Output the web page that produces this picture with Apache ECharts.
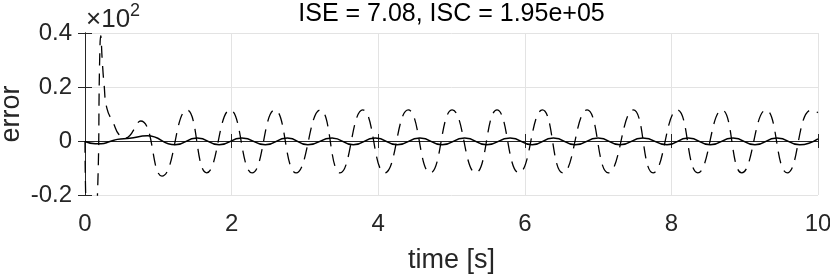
<!DOCTYPE html>
<html>
<head>
<meta charset="utf-8">
<script src="https://cdn.jsdelivr.net/npm/echarts@6/dist/echarts.min.js"></script>
<style>
html,body{margin:0;padding:0;background:#fff;}
#chart{width:830px;height:274px;}
</style>
</head>
<body>
<div id="chart"></div>
<script>
// Raw values (plotted on a x10^2 scale)
const dashedT = [0, 0.02, 0.09, 0.17, 0.20, 0.215, 0.235, 0.26, 0.30, 0.39, 0.46, 0.54, 0.76, 1.05,
  1.39, 1.66, 1.98, 2.28, 2.59, 2.88, 3.21, 3.48, 3.79, 4.09, 4.41, 4.71, 5.01, 5.33, 5.62, 5.92,
  6.24, 6.52, 6.85, 7.14, 7.48, 7.75, 8.08, 8.36, 8.69, 8.96, 9.29, 9.58, 9.91, 10.0];
const dashedV = [0, -30, -45, -20, 30, 39, 30, 21, 12, 6.5, 2.5, 1, 7.4, -13,
  11.5, -11.8, 11.5, -11.8, 11.5, -11.8, 11.5, -11.8, 11.5, -11.8, 11.5, -11.8, 11.5, -11.8, 11.5, -11.8,
  11.5, -11.8, 11.5, -11.8, 11.5, -11.8, 11.5, -11.8, 11.5, -11.8, 11.5, -11.8, 11.5, 10.5];

const solidT = [0, 0.14, 0.22, 0.34, 0.44, 0.61, 0.85, 1.23, 1.53, 1.83, 2.14, 2.46, 2.76, 3.04,
  3.37, 3.66, 3.96, 4.26, 4.57, 4.87, 5.18, 5.48, 5.80, 6.10, 6.39, 6.69, 7.00, 7.30, 7.61, 7.94,
  8.23, 8.53, 8.84, 9.14, 9.44, 9.75, 10.0];
const solidV = [-0.2, -1.0, -1.0, -0.2, 0.6, 1.0, 1.9, -1.4, 1.1, -1.4, 1.1, -1.4, 1.1, -1.4,
  1.1, -1.4, 1.1, -1.4, 1.1, -1.4, 1.1, -1.4, 1.1, -1.4, 1.1, -1.4, 1.1, -1.4, 1.1, -1.4,
  1.1, -1.4, 1.1, -1.4, 1.1, -1.4, 0.8];

const xMin = 0, xMax = 10, xStep = 2;
const yMin = -20, yMax = 40, yStep = 20;
const yScale = 100;
const titleText = 'ISE = 7.08, ISC = 1.95e+05';
const xName = 'time [s]';
const yName = 'error';
const expBase = '\u00d710';
const expPow = '2';

const FONT = "'Liberation Sans', Arial, Helvetica, sans-serif";
const AX = '#262626';

// measure width of the "x10" text so the exponent sits right after it
const mctx = document.createElement('canvas').getContext('2d');
mctx.font = "26px " + FONT;
const expBaseW = mctx.measureText(expBase).width;

const chart = echarts.init(document.getElementById('chart'), null, {renderer: 'canvas'});

const baseX = {
  type: 'value', min: xMin, max: xMax, interval: xStep,
  axisLine: {show: true, lineStyle: {color: AX, width: 1}},
  axisTick: {show: true, inside: true, length: 7, lineStyle: {color: AX, width: 1}},
};
const baseY = {
  type: 'value', min: yMin, max: yMax, interval: yStep,
  axisLine: {show: true, lineStyle: {color: AX, width: 1}},
  axisTick: {show: true, inside: true, length: 7, lineStyle: {color: AX, width: 1}},
};

chart.setOption({
  animation: false,
  backgroundColor: '#fff',
  grid: {left: 85, right: 12, top: 33, bottom: 79, containLabel: false, outerBoundsMode: 'none'},
  xAxis: [
    Object.assign({}, baseX, {
      position: 'bottom',
      axisLabel: {show: true, fontSize: 24, fontFamily: FONT, color: AX, margin: 17},
      splitLine: {show: true, lineStyle: {color: '#e3e3e3', width: 1}},
      name: xName, nameLocation: 'middle', nameGap: 52, nameMoveOverlap: false,
      nameTextStyle: {fontSize: 27, fontFamily: FONT, color: AX}
    }),
    Object.assign({}, baseX, {
      position: 'top',
      axisLabel: {show: false}, splitLine: {show: false}
    })
  ],
  yAxis: [
    Object.assign({}, baseY, {
      position: 'left',
      axisLabel: {show: true, fontSize: 24, fontFamily: FONT, color: AX, margin: 13,
        padding: [5, 0, 0, 0],
        formatter: v => String(Math.round(v) / yScale)},
      splitLine: {show: true, lineStyle: {color: '#e3e3e3', width: 1}},
      name: yName, nameLocation: 'middle', nameGap: 60, nameRotate: 90, nameMoveOverlap: false,
      nameTextStyle: {fontSize: 27, fontFamily: FONT, color: AX}
    }),
    Object.assign({}, baseY, {
      position: 'right',
      axisLabel: {show: false}, splitLine: {show: false}
    })
  ],
  graphic: [
    {type: 'text', x: 451.5, y: 14, z: 10,
      style: {text: titleText, font: "25px " + FONT, fill: '#000', align: 'center', verticalAlign: 'middle', textAlign: 'center', textVerticalAlign: 'middle'}},
    {type: 'text', x: 86, y: 20, z: 10,
      style: {text: expBase, font: "26px " + FONT, fill: AX, align: 'left', verticalAlign: 'middle', textAlign: 'left', textVerticalAlign: 'middle'}},
    {type: 'text', x: 86 + expBaseW, y: 11, z: 10,
      style: {text: expPow, font: "18px " + FONT, fill: AX, align: 'left', verticalAlign: 'middle', textAlign: 'left', textVerticalAlign: 'middle'}}
  ],
  series: [
    {
      type: 'line', xAxisIndex: 0, yAxisIndex: 0,
      data: dashedT.map((t, i) => [t, dashedV[i]]),
      showSymbol: false, symbol: 'none', smooth: 0.5, clip: true,
      lineStyle: {color: '#000', width: 1.3, type: [12, 8]}
    },
    {
      type: 'line', xAxisIndex: 0, yAxisIndex: 0,
      data: solidT.map((t, i) => [t, solidV[i]]),
      showSymbol: false, symbol: 'none', smooth: 0.5, clip: true,
      lineStyle: {color: '#000', width: 1.5}
    }
  ]
});
</script>
</body>
</html>
